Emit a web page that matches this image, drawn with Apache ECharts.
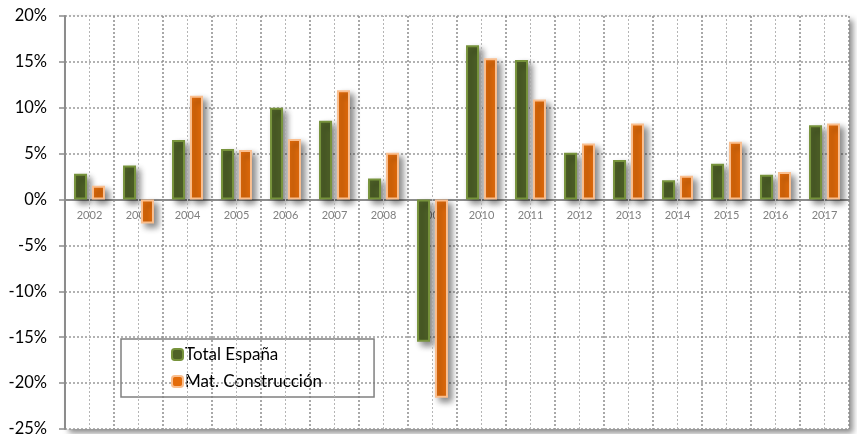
<!DOCTYPE html>
<html>
<head>
<meta charset="utf-8">
<script src="https://cdn.jsdelivr.net/npm/echarts@6/dist/echarts.min.js"></script>
<style>
 html,body{margin:0;padding:0;background:#fff;}
 #chart{width:857px;height:434px;}
</style>
</head>
<body>
<div id="chart"></div>
<script>
var years = ['2002','2003','2004','2005','2006','2007','2008','2009','2010','2011','2012','2013','2014','2015','2016','2017'];
var totalEspana = [2.8, 3.7, 6.5, 5.5, 10.0, 8.6, 2.3, -15.5, 16.8, 15.2, 5.1, 4.3, 2.1, 3.9, 2.7, 8.1];
var matConstruccion = [1.5, -2.6, 11.3, 5.4, 6.6, 11.9, 5.1, -21.6, 15.4, 10.9, 6.1, 8.3, 2.6, 6.3, 3.0, 8.3];
var yTicks = {min: -25, max: 20, interval: 5};

var myChart = echarts.init(document.getElementById('chart'));

var font = 'Lato, "Open Sans", sans-serif';

// lineas verticales claras en el centro de cada categoria
var centerLines = years.map(function (y) { return {xAxis: y}; });

var option = {
    animation: false,
    textStyle: {fontFamily: font},
    grid: {
        left: 65, right: 8, top: 16, bottom: 5,
        outerBoundsMode: 'none',
        containLabel: false,
        show: true,
        backgroundColor: '#fff',
        borderWidth: 0,
        shadowColor: 'rgba(0,0,0,0.45)',
        shadowBlur: 6,
        shadowOffsetX: 4,
        shadowOffsetY: 4
    },
    legend: {
        orient: 'vertical',
        left: 121,
        top: 339,
        padding: [7, 52, 7, 50],
        itemGap: 10,
        itemWidth: 11,
        itemHeight: 11,
        borderColor: '#808080',
        borderWidth: 1.5,
        textStyle: {fontSize: 17, color: '#000', fontFamily: font, padding: [0, 0, 0, -3]},
        data: ['Total España', 'Mat. Construcción']
    },
    xAxis: {
        type: 'category',
        data: years,
        position: 'bottom',
        offset: 0,
        axisLine: {onZero: false, lineStyle: {color: '#8c8c8c', width: 2}},
        axisTick: {show: false},
        axisLabel: {color: '#7f7f7f', fontSize: 11, margin: 10, interval: 0},
        splitLine: {show: true, interval: 0, lineStyle: {color: '#8c8c8c', width: 1.5, type: [2, 2]}}
    },
    yAxis: {
        type: 'value',
        min: yTicks.min, max: yTicks.max, interval: yTicks.interval,
        axisLine: {show: true, onZero: false, lineStyle: {color: '#8c8c8c', width: 2}},
        axisTick: {show: true, length: 6, lineStyle: {color: '#8c8c8c', width: 1.5}},
        axisLabel: {formatter: '{value}%', color: '#000', fontSize: 16.5, margin: 18},
        splitLine: {show: true, lineStyle: {color: '#999', width: 1.5, type: [2, 2]}}
    },
    series: [{
        name: 'grid-centros',
        type: 'line',
        data: [],
        z: 1,
        silent: true,
        markLine: {
            silent: true,
            symbol: 'none',
            label: {show: false},
            lineStyle: {color: '#b5b5b5', width: 1, type: [2, 2]},
            data: centerLines
        }
    }, {
        name: 'Total España',
        type: 'bar',
        data: totalEspana,
        barWidth: 13,
        barGap: '38%',
        itemStyle: {
            color: '#4f6228',
            borderColor: '#77933c',
            borderWidth: 2,
            shadowColor: 'rgba(0,0,0,0.45)',
            shadowBlur: 6,
            shadowOffsetX: 4,
            shadowOffsetY: 4
        }
    }, {
        name: 'Mat. Construcción',
        type: 'bar',
        data: matConstruccion,
        barWidth: 13,
        itemStyle: {
            color: '#e46c0a',
            borderColor: '#fabf8f',
            borderWidth: 2,
            shadowColor: 'rgba(0,0,0,0.45)',
            shadowBlur: 6,
            shadowOffsetX: 4,
            shadowOffsetY: 4
        }
    }]
};

myChart.setOption(option);

// el eje de categorias va sobre el 0% (con etiquetas debajo)
var yZero = myChart.convertToPixel({yAxisIndex: 0}, 0);
var yBottom = myChart.convertToPixel({yAxisIndex: 0}, yTicks.min);
myChart.setOption({xAxis: {offset: -(yBottom - yZero)}});
</script>
</body>
</html>
